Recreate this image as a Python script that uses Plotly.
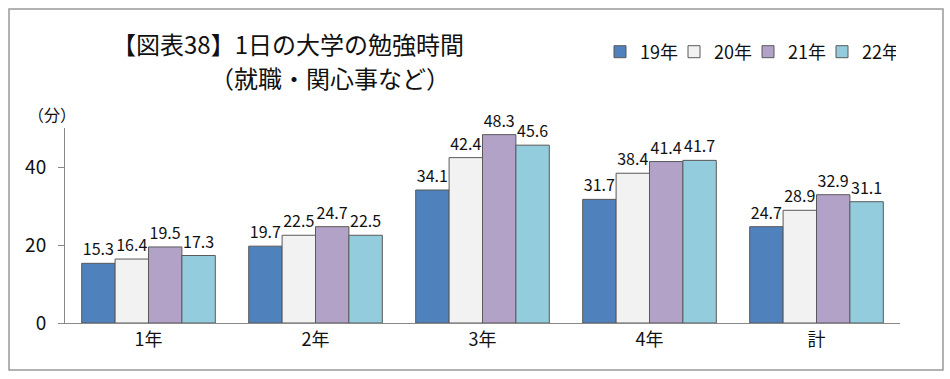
import plotly.graph_objects as go

categories = ["1年", "2年", "3年", "4年", "計"]
series_names = ["19年", "20年", "21年", "22年"]
v19 = [15.3, 19.7, 34.1, 31.7, 24.7]
v20 = [16.4, 22.5, 42.4, 38.4, 28.9]
v21 = [19.5, 24.7, 48.3, 41.4, 32.9]
v22 = [17.3, 22.5, 45.6, 41.7, 31.1]
colors = ["#4F81BD", "#F2F2F2", "#B3A2C7", "#93CDDD"]
y_ticks = [0, 20, 40]

FONT = "Noto Sans CJK JP"
W, H = 950, 379
L, R, T, B = 65, 50, 128, 56
pw, ph = W - L - R, H - T - B

def px(x):
    return (x - L) / pw

def py(y):
    return (H - B - y) / ph

fig = go.Figure()
for name, vals, col in zip(series_names, [v19, v20, v21, v22], colors):
    fig.add_trace(go.Bar(
        x=categories, y=vals, name=name,
        marker=dict(color=col, line=dict(color="#595959", width=1)),
        text=[f"{v:.1f}" for v in vals], textposition="outside",
        textfont=dict(family=FONT, size=16, color="#111"),
        cliponaxis=False,
    ))

fig.update_layout(
    width=W, height=H,
    margin=dict(l=L, r=R, t=T, b=B),
    paper_bgcolor="white", plot_bgcolor="white",
    barmode="group", bargap=0.2, bargroupgap=0,
    font=dict(family=FONT, color="#111"),
    showlegend=True,
    legend=dict(orientation="h", x=px(600), y=py(52), xanchor="left", yanchor="middle",
                font=dict(family=FONT, size=18, color="#111"),
                itemwidth=30, entrywidth=29, entrywidthmode="pixels",
                traceorder="normal", bgcolor="rgba(0,0,0,0)"),
    xaxis=dict(showline=True, linecolor="#888", linewidth=1, ticks="",
               tickfont=dict(family=FONT, size=18, color="#111"), showgrid=False),
    yaxis=dict(range=[0, 50], tickvals=y_ticks, showline=True, linecolor="#888", linewidth=1,
               ticks="outside", ticklen=6, tickcolor="#888", showgrid=False, zeroline=False,
               tickfont=dict(family=FONT, size=19, color="#111"), ticklabelstandoff=8),
)

fig.add_annotation(text="【図表38】1日の大学の勉強時間", xref="paper", yref="paper",
                   x=px(110), y=py(43), xanchor="left", yanchor="middle", showarrow=False,
                   font=dict(family=FONT, size=24, color="#111"))
fig.add_annotation(text="（就職・関心事など）", xref="paper", yref="paper",
                   x=px(208), y=py(77), xanchor="left", yanchor="middle", showarrow=False,
                   font=dict(family=FONT, size=24, color="#111"))
fig.add_annotation(text="（分）", xref="paper", yref="paper",
                   x=px(52), y=py(114), xanchor="center", yanchor="middle", showarrow=False,
                   font=dict(family=FONT, size=16, color="#111"))

fig.add_shape(type="rect", xref="paper", yref="paper",
              x0=px(9), x1=px(943), y0=py(370), y1=py(9),
              line=dict(color="#999", width=1.5), fillcolor="rgba(0,0,0,0)", layer="below")

fig.write_html("out.html", config={"displayModeBar": False},
               post_script="document.body.style.margin='0';document.body.style.overflow='hidden';")
